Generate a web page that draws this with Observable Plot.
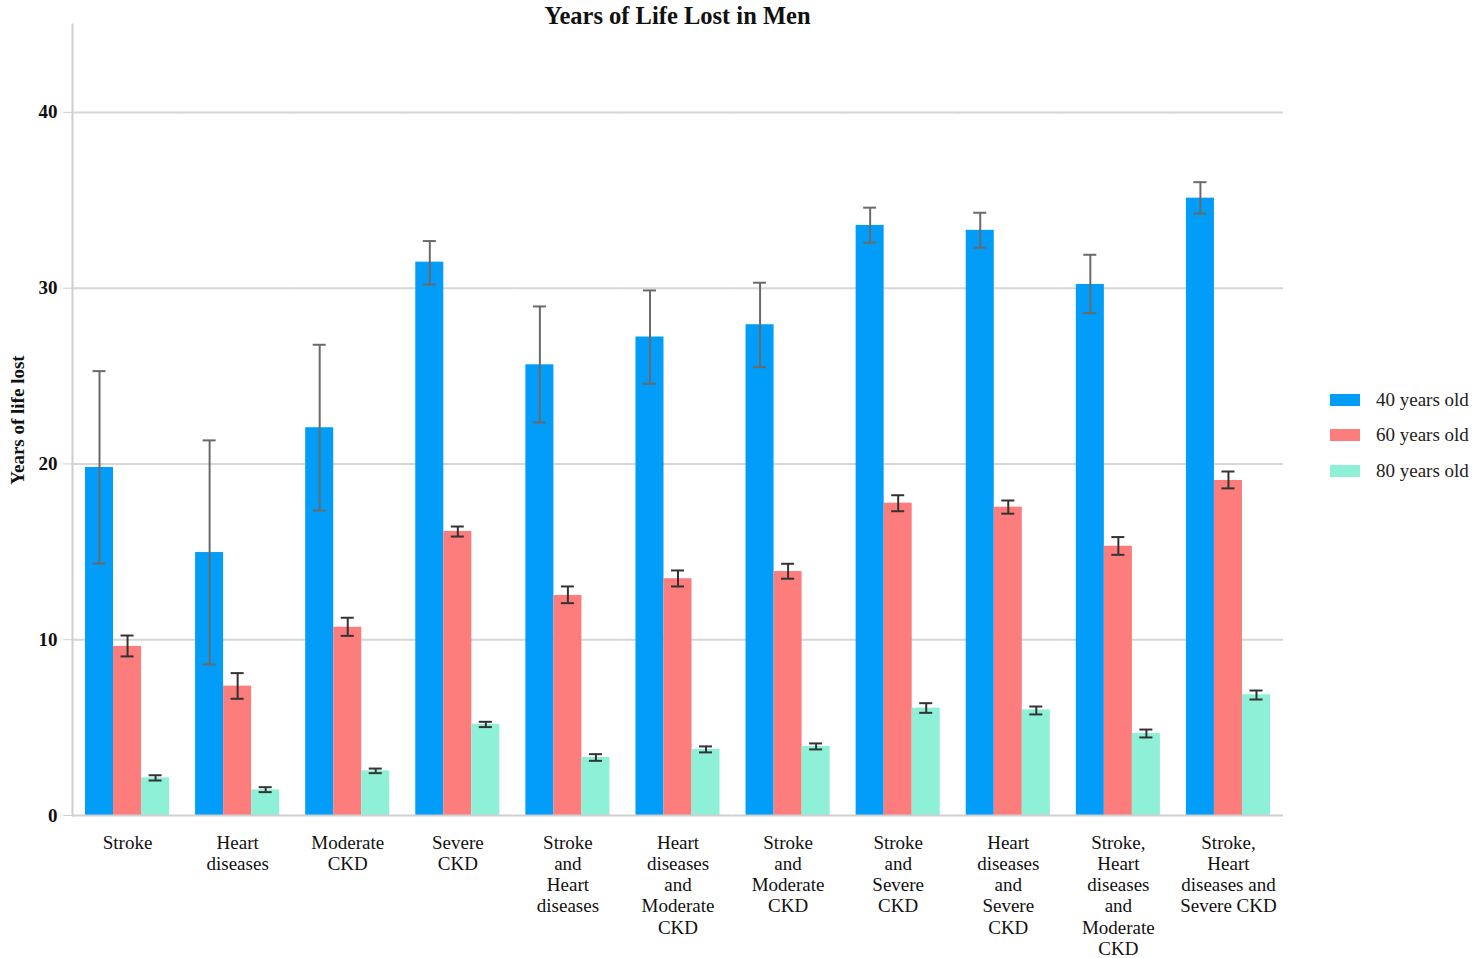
<!DOCTYPE html>
<html>
<head>
<meta charset="utf-8">
<script src="https://cdn.jsdelivr.net/npm/d3@7"></script>
<script src="https://cdn.jsdelivr.net/npm/@observablehq/plot@0.6"></script>
<style>
  body { margin: 0; background: #fff; }
  #chart { position: relative; width: 1474px; height: 958px; font-family: "Liberation Serif", "Times New Roman", serif; color: #111; }
  #chart svg { position: absolute; left: 0; top: 0; }
  #title { position: absolute; left: 72px; width: 1211px; top: 2px; line-height: 28px; text-align: center; font-weight: bold; font-size: 24.5px; }
  #legend { position: absolute; left: 1330px; top: 382px; }
  .row { display: flex; align-items: center; height: 35.5px; font-size: 19px; color: #222; }
  .sw { width: 30px; height: 12px; margin-right: 16px; }
</style>
</head>
<body>
<div id="chart">
  <div id="title">Years of Life Lost in Men</div>
  <div id="legend"></div>
</div>
<script>
// Comorbidity groups along the x axis
const categories = [
  "Stroke", "Heart diseases", "Moderate CKD", "Severe CKD",
  "Stroke and Heart diseases", "Heart diseases and Moderate CKD",
  "Stroke and Moderate CKD", "Stroke and Severe CKD",
  "Heart diseases and Severe CKD", "Stroke, Heart diseases and Moderate CKD",
  "Stroke, Heart diseases and Severe CKD"
];
// Wrapped tick labels, one per group
const tickLabels = [
  "Stroke", "Heart\ndiseases", "Moderate\nCKD", "Severe\nCKD",
  "Stroke\nand\nHeart\ndiseases", "Heart\ndiseases\nand\nModerate\nCKD",
  "Stroke\nand\nModerate\nCKD", "Stroke\nand\nSevere\nCKD",
  "Heart\ndiseases\nand\nSevere\nCKD", "Stroke,\nHeart\ndiseases\nand\nModerate\nCKD",
  "Stroke,\nHeart\ndiseases and\nSevere CKD"
];
const ages = ["40 years old", "60 years old", "80 years old"];
const colors = ["#019df8", "#fd7c7c", "#8ff0d8"];

// Years of life lost (mean) with confidence limits
const age40 = [19.80, 14.96, 22.06, 31.48, 25.64, 27.22, 27.92, 33.57, 33.29, 30.21, 35.12];
const age40Low = [14.34, 8.59, 17.35, 30.21, 22.36, 24.56, 25.51, 32.59, 32.30, 28.58, 34.24];
const age40High = [25.28, 21.34, 26.78, 32.68, 28.96, 29.87, 30.31, 34.58, 34.29, 31.90, 36.03];

const age60 = [9.62, 7.36, 10.71, 16.16, 12.52, 13.47, 13.88, 17.77, 17.54, 15.32, 19.06];
const age60Low = [9.05, 6.64, 10.22, 15.87, 12.08, 13.03, 13.47, 17.31, 17.17, 14.83, 18.61];
const age60High = [10.24, 8.10, 11.25, 16.44, 13.03, 13.94, 14.32, 18.22, 17.92, 15.84, 19.57];

const age80 = [2.14, 1.46, 2.54, 5.18, 3.30, 3.76, 3.93, 6.11, 6.01, 4.67, 6.87];
const age80Low = [1.99, 1.33, 2.41, 5.03, 3.11, 3.59, 3.76, 5.84, 5.75, 4.44, 6.60];
const age80High = [2.29, 1.61, 2.67, 5.33, 3.49, 3.93, 4.10, 6.39, 6.20, 4.89, 7.11];

const yTicks = [0, 10, 20, 30, 40];

const means = [age40, age60, age80];
const lows = [age40Low, age60Low, age80Low];
const highs = [age40High, age60High, age80High];

const rows = categories.flatMap((c, i) => ages.map((a, j) => ({
  category: c, age: a, value: means[j][i], low: lows[j][i], high: highs[j][i]
})));

const serif = '"Liberation Serif", "Times New Roman", serif';
const youngest = d => d.age === ages[0];
const older = d => d.age !== ages[0];
const capInset = 7.5;

const chart = Plot.plot({
  width: 1474,
  height: 958,
  marginLeft: 72,
  marginRight: 191,
  marginTop: 24,
  marginBottom: 143,
  style: { fontFamily: serif, fontSize: "19px", color: "#111", background: "transparent" },
  fx: { domain: categories, padding: 0, round: false, label: null },
  x: { domain: ages, paddingInner: 0, paddingOuter: 0.464, round: false, axis: null },
  y: { domain: [0, 45], axis: null },
  color: { domain: ages, range: colors },
  marks: [
    Plot.gridY(yTicks.filter(t => t > 0), { stroke: "#d6d6d6", strokeOpacity: 1, strokeWidth: 2 }),
    Plot.barY(rows, { fx: "category", x: "age", y: "value", fill: "age" }),
    Plot.ruleY([0], { stroke: "#d0d0d0", strokeWidth: 2 }),
    Plot.frame({ anchor: "left", facetAnchor: "left", stroke: "#d0d0d0", strokeWidth: 2 }),
    // confidence intervals
    Plot.ruleX(rows, { filter: youngest, fx: "category", x: "age", y1: "low", y2: "high", stroke: "#6a6a6a", strokeWidth: 2 }),
    Plot.tickY(rows, { filter: youngest, fx: "category", x: "age", y: "low", insetLeft: capInset, insetRight: capInset, stroke: "#6a6a6a", strokeWidth: 2 }),
    Plot.tickY(rows, { filter: youngest, fx: "category", x: "age", y: "high", insetLeft: capInset, insetRight: capInset, stroke: "#6a6a6a", strokeWidth: 2 }),
    Plot.ruleX(rows, { filter: older, fx: "category", x: "age", y1: "low", y2: "high", stroke: "#333", strokeWidth: 2 }),
    Plot.tickY(rows, { filter: older, fx: "category", x: "age", y: "low", insetLeft: capInset, insetRight: capInset, stroke: "#333", strokeWidth: 2 }),
    Plot.tickY(rows, { filter: older, fx: "category", x: "age", y: "high", insetLeft: capInset, insetRight: capInset, stroke: "#333", strokeWidth: 2 }),
    Plot.axisY({
      ticks: yTicks, tickSize: 9, tickPadding: 6, stroke: "#cfcfcf", fill: "#111",
      fontWeight: "bold", fontSize: 19,
      label: "Years of life lost", labelAnchor: "center", labelArrow: "none", labelOffset: 62
    }),
    Plot.axisFx({
      anchor: "bottom", tickSize: 0, tickPadding: 18, lineHeight: 1.12, fontSize: 19, fill: "#111",
      tickFormat: d => tickLabels[categories.indexOf(d)], label: null
    })
  ]
});

document.getElementById("chart").prepend(chart);

// legend built from the same series and colours
const legend = d3.select("#legend");
ages.forEach((a, i) => {
  const row = legend.append("div").attr("class", "row");
  row.append("div").attr("class", "sw").style("background", colors[i]);
  row.append("span").text(a);
});
</script>
</body>
</html>
